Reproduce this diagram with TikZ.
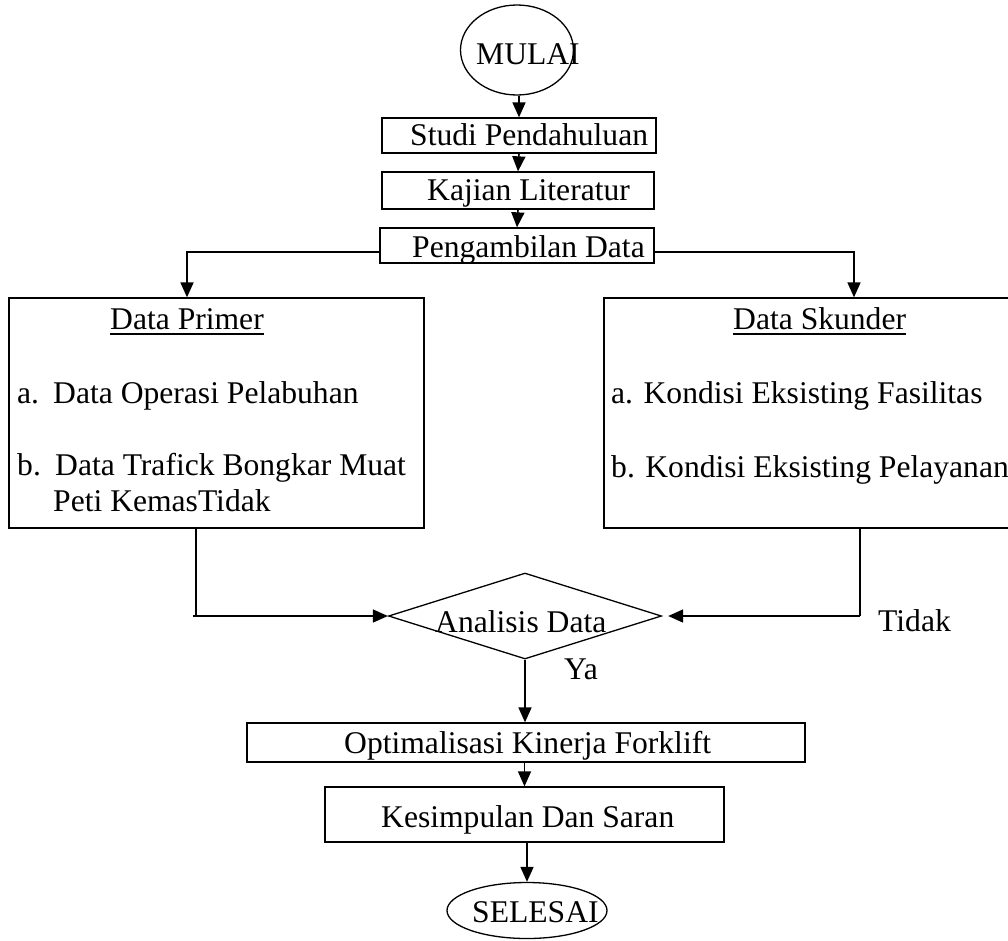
\documentclass[tikz,border=0pt]{standalone}
\usepackage{fontspec}
\setmainfont{Liberation Serif}
\usetikzlibrary{shapes.geometric,arrows.meta,calc}
\newcommand{\fsz}{\fontsize{31.6}{38}\selectfont}
\begin{document}
\begin{tikzpicture}[x=1pt,y=-1pt,
  box/.style={draw, line width=1.3pt, inner sep=0pt, rectangle},
  oval/.style={draw, line width=1.3pt, inner sep=0pt, ellipse},
  decide/.style={draw, line width=1.3pt, inner sep=0pt, diamond},
  txt/.style={anchor=base west, inner sep=0pt, font=\fsz},
  arr/.style={line width=1.6pt, -{Triangle[length=15pt,width=13pt]}},
  ln/.style={line width=1.6pt},
  uline/.style={line width=1.4pt}]
\clip (0,0) rectangle (1008,940);
\fill[white] (0,0) rectangle (1008,940);

% boxes and terminals
\node[oval, minimum width=113pt, minimum height=90pt] (mulai) at (517,50) {};
\node[box, minimum width=274pt, minimum height=35pt] (studi) at (519,135.5) {};
\node[box, minimum width=272pt, minimum height=37pt] (kajian) at (518,190.5) {};
\node[box, minimum width=274pt, minimum height=35pt] (peng) at (517,245.5) {};
\node[box, minimum width=415pt, minimum height=230pt] (primer) at (216.5,413) {};
\node[box, minimum width=411pt, minimum height=230pt] (skunder) at (809.5,413) {};
\node[decide, minimum width=273pt, minimum height=86pt] (analisis) at (525,616) {};
\node[box, minimum width=558pt, minimum height=39pt] (opt) at (526,742.5) {};
\node[box, minimum width=399pt, minimum height=55pt] (kes) at (524.5,814.5) {};
\node[oval, minimum width=160pt, minimum height=56pt] (selesai) at (527,910.5) {};

% texts
\node[txt] (tmulai) at (476,64) {MULAI};
\node[txt] (tstudi) at (410,145) {Studi Pendahuluan};
\node[txt] (tkajian) at (427,200) {Kajian Literatur};
\node[txt] (tpeng) at (412,257) {Pengambilan Data};
\node[txt] (tprimer) at (110,329) {Data Primer};
\node[txt] (pa) at (17,403) {a.};
\node[txt] (pat) at (53,403) {Data Operasi Pelabuhan};
\node[txt] (pb) at (17,475) {b.};
\node[txt] (pbt) at (55,475) {Data Trafick Bongkar Muat};
\node[txt] (pbt2) at (53,511) {Peti KemasTidak};
\node[txt] (tskunder) at (733,329) {Data Skunder};
\node[txt] (sa) at (611,403) {a. Kondisi Eksisting Fasilitas};
\node[txt] (sb) at (611,477) {b. Kondisi Eksisting Pelayanan};
\node[txt] (tanalisis) at (435,632) {Analisis Data};
\node[txt] (ttidak) at (878,631) {Tidak};
\node[txt] (tya) at (564,679) {Ya};
\node[txt] (topt) at (344,753) {Optimalisasi Kinerja Forklift};
\node[txt] (tkes) at (381,827) {Kesimpulan Dan Saran};
\node[txt] (tsel) at (472,922) {SELESAI};

% underlines
\draw[uline] ([yshift=-5pt]tprimer.base west) -- ([yshift=-5pt]tprimer.base east);
\draw[uline] ([yshift=-5pt]tskunder.base west) -- ([yshift=-5pt]tskunder.base east);

% connectors
\draw[arr] (mulai.south -| studi.north) -- (studi.north);
\draw[arr] (studi.south) -- (kajian.north);
\draw[arr] (kajian.south) -- (peng.north);
\draw[arr] ([yshift=-6.5pt]peng.west) -| ([xshift=-29.5pt]primer.north);
\draw[arr] ([yshift=-6.5pt]peng.east) -| ([xshift=44.5pt]skunder.north);
\draw[ln] ([xshift=-20.5pt]primer.south) -- ([xshift=-20.5pt]primer.south |- analisis.west);
\draw[arr] ([xshift=-24pt]primer.south |- analisis.west) -- (analisis.west);
\draw[ln] ([xshift=50.5pt]skunder.south) -- ([xshift=50.5pt]skunder.south |- analisis.east);
\draw[arr, shorten >=6pt] ([xshift=50.5pt]skunder.south |- analisis.east) -- (analisis.east);
\draw[arr] (analisis.south) -- (analisis.south |- opt.north);
\draw[arr] (opt.south -| kes.north) -- (kes.north);
\draw[arr] (kes.south) -- (kes.south -| selesai.north) -- (selesai.north);
\end{tikzpicture}
\end{document}
